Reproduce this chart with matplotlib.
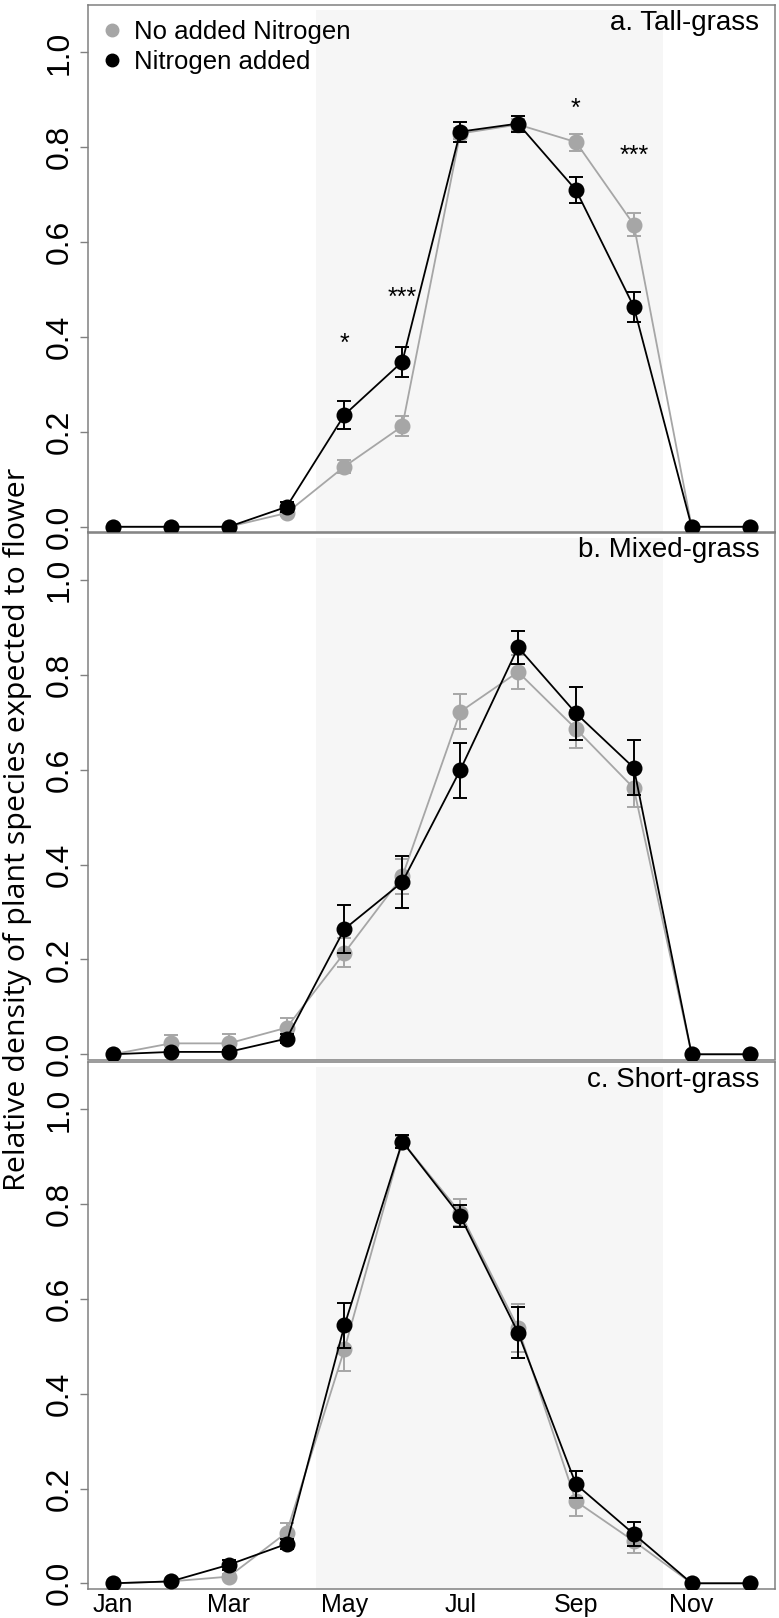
import matplotlib
matplotlib.use('Agg')
import matplotlib.pyplot as plt
from matplotlib.lines import Line2D

plt.rcParams['font.family'] = ['Liberation Sans', 'DejaVu Sans']

months = list(range(1, 13))
tick_months = [1, 3, 5, 7, 9, 11]
tick_labels = ['Jan', 'Mar', 'May', 'Jul', 'Sep', 'Nov']

# a. Tall-grass
tall_no_n = [0.0, 0.0, 0.0, 0.029, 0.127, 0.212, 0.829, 0.848, 0.811, 0.637, 0.0, 0.0]
tall_no_n_se = [0, 0, 0, 0.006, 0.013, 0.021, 0.012, 0.012, 0.018, 0.025, 0, 0]
tall_n = [0.0, 0.0, 0.0, 0.042, 0.236, 0.348, 0.833, 0.850, 0.710, 0.464, 0.0, 0.0]
tall_n_se = [0, 0, 0, 0.01, 0.029, 0.032, 0.021, 0.017, 0.028, 0.032, 0, 0]

# b. Mixed-grass
mixed_no_n = [0.0, 0.023, 0.023, 0.056, 0.214, 0.375, 0.722, 0.806, 0.686, 0.561, 0.0, 0.0]
mixed_no_n_se = [0, 0.018, 0.02, 0.02, 0.031, 0.037, 0.037, 0.036, 0.04, 0.039, 0, 0]
mixed_n = [0.0, 0.005, 0.005, 0.033, 0.264, 0.363, 0.599, 0.858, 0.719, 0.604, 0.0, 0.0]
mixed_n_se = [0, 0.004, 0.004, 0.01, 0.05, 0.054, 0.058, 0.035, 0.056, 0.058, 0, 0]

# c. Short-grass
short_no_n = [0.0, 0.004, 0.014, 0.107, 0.494, 0.932, 0.782, 0.539, 0.173, 0.089, 0.0, 0.0]
short_no_n_se = [0, 0.002, 0.005, 0.021, 0.047, 0.012, 0.028, 0.05, 0.03, 0.025, 0, 0]
short_n = [0.0, 0.004, 0.039, 0.083, 0.544, 0.932, 0.775, 0.529, 0.209, 0.104, 0.0, 0.0]
short_n_se = [0, 0.002, 0.01, 0.01, 0.048, 0.014, 0.023, 0.053, 0.028, 0.026, 0, 0]

# significance marks on panel a
star_months = [5, 6, 9, 10]
star_y = [0.40, 0.497, 0.896, 0.798]
star_text = ['*', '***', '*', '***']

panels = [
    ('a. Tall-grass', tall_no_n, tall_no_n_se, tall_n, tall_n_se),
    ('b. Mixed-grass', mixed_no_n, mixed_no_n_se, mixed_n, mixed_n_se),
    ('c. Short-grass', short_no_n, short_no_n_se, short_n, short_n_se),
]

grey = '#a6a6a6'
frame = '#808080'

fig = plt.figure(figsize=(7.79, 16.18), dpi=100)
W, H = 779.0, 1618.0
left, right = 87.5, 775.0
tops = [5.0, 532.5, 1062.0]
bottoms = [532.0, 1059.5, 1588.5]

axes = []
for i, (title, c_vals, c_se, n_vals, n_se) in enumerate(panels):
    ax = fig.add_axes([left / W, 1 - bottoms[i] / H, (right - left) / W, (bottoms[i] - tops[i]) / H])
    axes.append(ax)
    ax.axvspan(4.5, 10.5, ymin=0, ymax=0.99, color='#f6f6f6', lw=0, zorder=0)
    ax.errorbar(months, c_vals, yerr=c_se, fmt='o-', color=grey, ms=10.5, lw=1.3,
                elinewidth=1.4, capsize=5, capthick=1.4, zorder=2)
    ax.errorbar(months, n_vals, yerr=n_se, fmt='o-', color='black', ms=10.5, lw=1.3,
                elinewidth=1.4, capsize=5, capthick=1.4, zorder=3)
    ax.set_xlim(0.56, 12.44)
    ax.set_ylim(-0.011, 1.10)
    ax.set_yticks([0.0, 0.2, 0.4, 0.6, 0.8, 1.0])
    ax.set_yticklabels(['0.0', '0.2', '0.4', '0.6', '0.8', '1.0'], rotation=90, va='center')
    ax.tick_params(axis='y', labelsize=23, length=6, width=1, color=frame, pad=3)
    for s in ax.spines.values():
        s.set_color(frame)
        s.set_linewidth(1.1)
    ax.text(0.977, 0.966, title, transform=ax.transAxes, ha='right', va='center', fontsize=20)
    if i < 2:
        ax.set_xticks([])
    else:
        ax.set_xticks(tick_months)
        ax.set_xticklabels(tick_labels)
        ax.tick_params(axis='x', labelsize=18, length=0, pad=3)

ax = axes[0]
for m, y, t in zip(star_months, star_y, star_text):
    ax.text(m, y - 0.03, t, ha='center', va='baseline', fontsize=18)

handles = [Line2D([], [], marker='o', ls='none', color=grey, ms=9),
           Line2D([], [], marker='o', ls='none', color='black', ms=9)]
ax.legend(handles, ['No added Nitrogen', 'Nitrogen added'], loc='upper left',
          bbox_to_anchor=(0.0, 1.0), frameon=False, fontsize=18.5, handlelength=0.7,
          handletextpad=0.5, labelspacing=0.2, borderaxespad=0.3, borderpad=0.3)

ylab = fig.text(0.023, 0.4877, 'Relative density of plant species expected to flower',
                rotation=90, ha='center', va='center', fontsize=19,
                family=['Open Sans', 'DejaVu Sans'])
# size the label so it runs the same length as in the original
fig.canvas.draw()
ext = ylab.get_window_extent()
ylab.set_fontsize(ylab.get_fontsize() * 722.0 / ext.height)

fig.savefig('out.png', dpi=100)
